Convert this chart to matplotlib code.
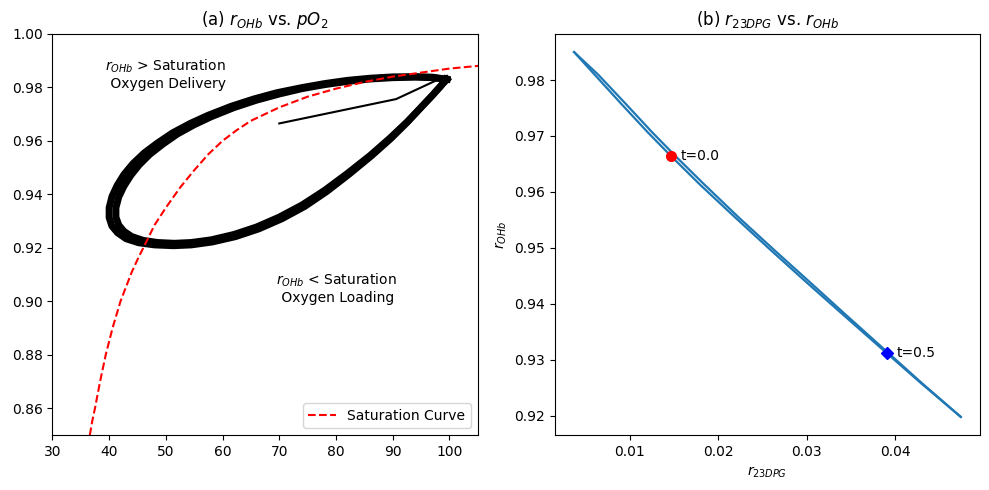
import numpy as np
import matplotlib
matplotlib.use("Agg")
import matplotlib.pyplot as plt

# 酸素飽和曲線（図から読み取った点）
sat_pO2 = [36.6, 37.0, 37.5, 38.4, 39.4, 40.6, 42.0, 43.0, 44.0, 45.2, 46.5, 48.0, 50.0, 52.5,
           55.0, 57.5, 60.0, 62.5, 65.0, 70.0, 75.0, 80.0, 85.0, 90.0, 95.0, 100.0, 105.0, 110.0]
sat_r = [0.850, 0.855, 0.860, 0.870, 0.880, 0.890, 0.900, 0.9055, 0.911, 0.9165, 0.922, 0.9285,
         0.935, 0.9425, 0.949, 0.955, 0.960, 0.964, 0.9675, 0.9725, 0.9765, 0.9795, 0.982,
         0.984, 0.9855, 0.987, 0.988, 0.989]

# 初期の過渡部分 (t=0 から周期解まで)
trans_pO2 = [70.0, 90.6, 97.6]
trans_r = [0.9665, 0.9756, 0.9825]

# 周期解のループ (pO2, r_OHb): 後半の周期
loop_pO2 = [99.3, 97.0, 94.0, 90.0, 86.0, 82.0, 78.0, 74.0, 70.0, 66.0, 62.0, 58.0, 55.0, 52.0,
            49.5, 47.2, 45.3, 43.8, 42.6, 41.7, 41.2, 41.2, 41.7, 42.6, 44.0, 46.0, 48.5, 51.5,
            54.5, 58.0, 62.0, 66.0, 70.0, 74.0, 78.0, 82.0, 86.0, 89.5, 92.5, 95.0, 97.0, 98.5, 99.3]
loop_r = [0.9830, 0.9836, 0.9838, 0.9836, 0.9831, 0.9822, 0.9810, 0.9795, 0.9775, 0.9752,
          0.9724, 0.9690, 0.9660, 0.9625, 0.9588, 0.9550, 0.9510, 0.9470, 0.9430, 0.9390,
          0.9350, 0.9315, 0.9285, 0.9262, 0.9242, 0.9228, 0.9220, 0.9217, 0.9220, 0.9230,
          0.9250, 0.9278, 0.9315, 0.9360, 0.9415, 0.9478, 0.9545, 0.9610, 0.9670, 0.9725,
          0.9770, 0.9805, 0.9830]

# 前半の周期（少し外側を回る）
loop2_pO2 = [99.6, 97.0, 94.0, 90.0, 86.0, 82.0, 78.0, 74.0, 69.6, 65.6, 61.5, 57.4, 54.3, 51.2,
             48.6, 46.2, 44.2, 42.6, 41.4, 40.5, 40.0, 40.0, 40.5, 41.5, 43.0, 45.2, 48.0, 51.3,
             54.5, 58.2, 62.3, 66.4, 70.5, 74.5, 78.4, 82.3, 86.2, 89.7, 92.6, 95.0, 97.0, 98.5, 99.6]
loop2_r = [0.9830, 0.9838, 0.9840, 0.9839, 0.9834, 0.9826, 0.9814, 0.9799, 0.9780, 0.9757,
           0.9729, 0.9695, 0.9665, 0.9630, 0.9593, 0.9555, 0.9515, 0.9474, 0.9433, 0.9392,
           0.9350, 0.9313, 0.9281, 0.9256, 0.9234, 0.9219, 0.9211, 0.9208, 0.9211, 0.9222,
           0.9242, 0.9271, 0.9309, 0.9355, 0.9411, 0.9475, 0.9543, 0.9609, 0.9670, 0.9725,
           0.9770, 0.9806, 0.9830]

# r_23DPG vs r_OHb（行き・帰り）
dpg_down = [0.0037, 0.0060, 0.0090, 0.0120, 0.0146, 0.0180, 0.0220, 0.0260, 0.0300, 0.0340,
            0.0391, 0.0430, 0.0474]
ohb_down = [0.9850, 0.9810, 0.9758, 0.9707, 0.9665, 0.9612, 0.9553, 0.9495, 0.9438, 0.9382,
            0.9311, 0.9257, 0.9198]
dpg_up = [0.0037, 0.0064, 0.0095, 0.0125, 0.0151, 0.0185, 0.0224, 0.0264, 0.0304, 0.0343,
          0.0393, 0.0431, 0.0474]
ohb_up = ohb_down

t0 = (0.0146, 0.9665)
t05 = (0.0391, 0.9312)

fig, (ax1, ax2) = plt.subplots(1, 2, figsize=(9.89, 4.9), dpi=100)
fig.subplots_adjust(left=0.053, right=0.991, top=0.931, bottom=0.112, wspace=0.181)

ax1.plot(loop2_pO2, loop2_r, color="black", lw=5, solid_joinstyle="round")
ax1.plot(loop_pO2, loop_r, color="black", lw=5, solid_joinstyle="round")
ax1.plot(trans_pO2, trans_r, color="black", lw=1.5)
ax1.plot(sat_pO2, sat_r, "r--", label="Saturation Curve")
ax1.text(50, 0.985, "$r_{OHb}$ > Saturation\n Oxygen Delivery", ha="center", va="center")
ax1.text(80, 0.905, "$r_{OHb}$ < Saturation\n Oxygen Loading", ha="center", va="center")
ax1.set_xlim(30, 105)
ax1.set_ylim(0.85, 1.0)
ax1.set_title("(a) $r_{OHb}$ vs. $pO_2$")
ax1.legend(loc="lower right")

ax2.plot(dpg_down, ohb_down, color="C0", lw=1.6)
ax2.plot(dpg_up, ohb_up, color="C0", lw=1.6)
ax2.plot(*t0, "ro", ms=7)
ax2.plot(*t05, "bD", ms=6.5)
ax2.annotate("t=0.0", t0, xytext=(7, 0), textcoords="offset points", va="center")
ax2.annotate("t=0.5", t05, xytext=(7, 0), textcoords="offset points", va="center")
ax2.set_xlabel("$r_{23DPG}$")
ax2.set_ylabel("$r_{OHb}$")
ax2.set_title("(b) $r_{23DPG}$ vs. $r_{OHb}$")

plt.savefig("out.png")
